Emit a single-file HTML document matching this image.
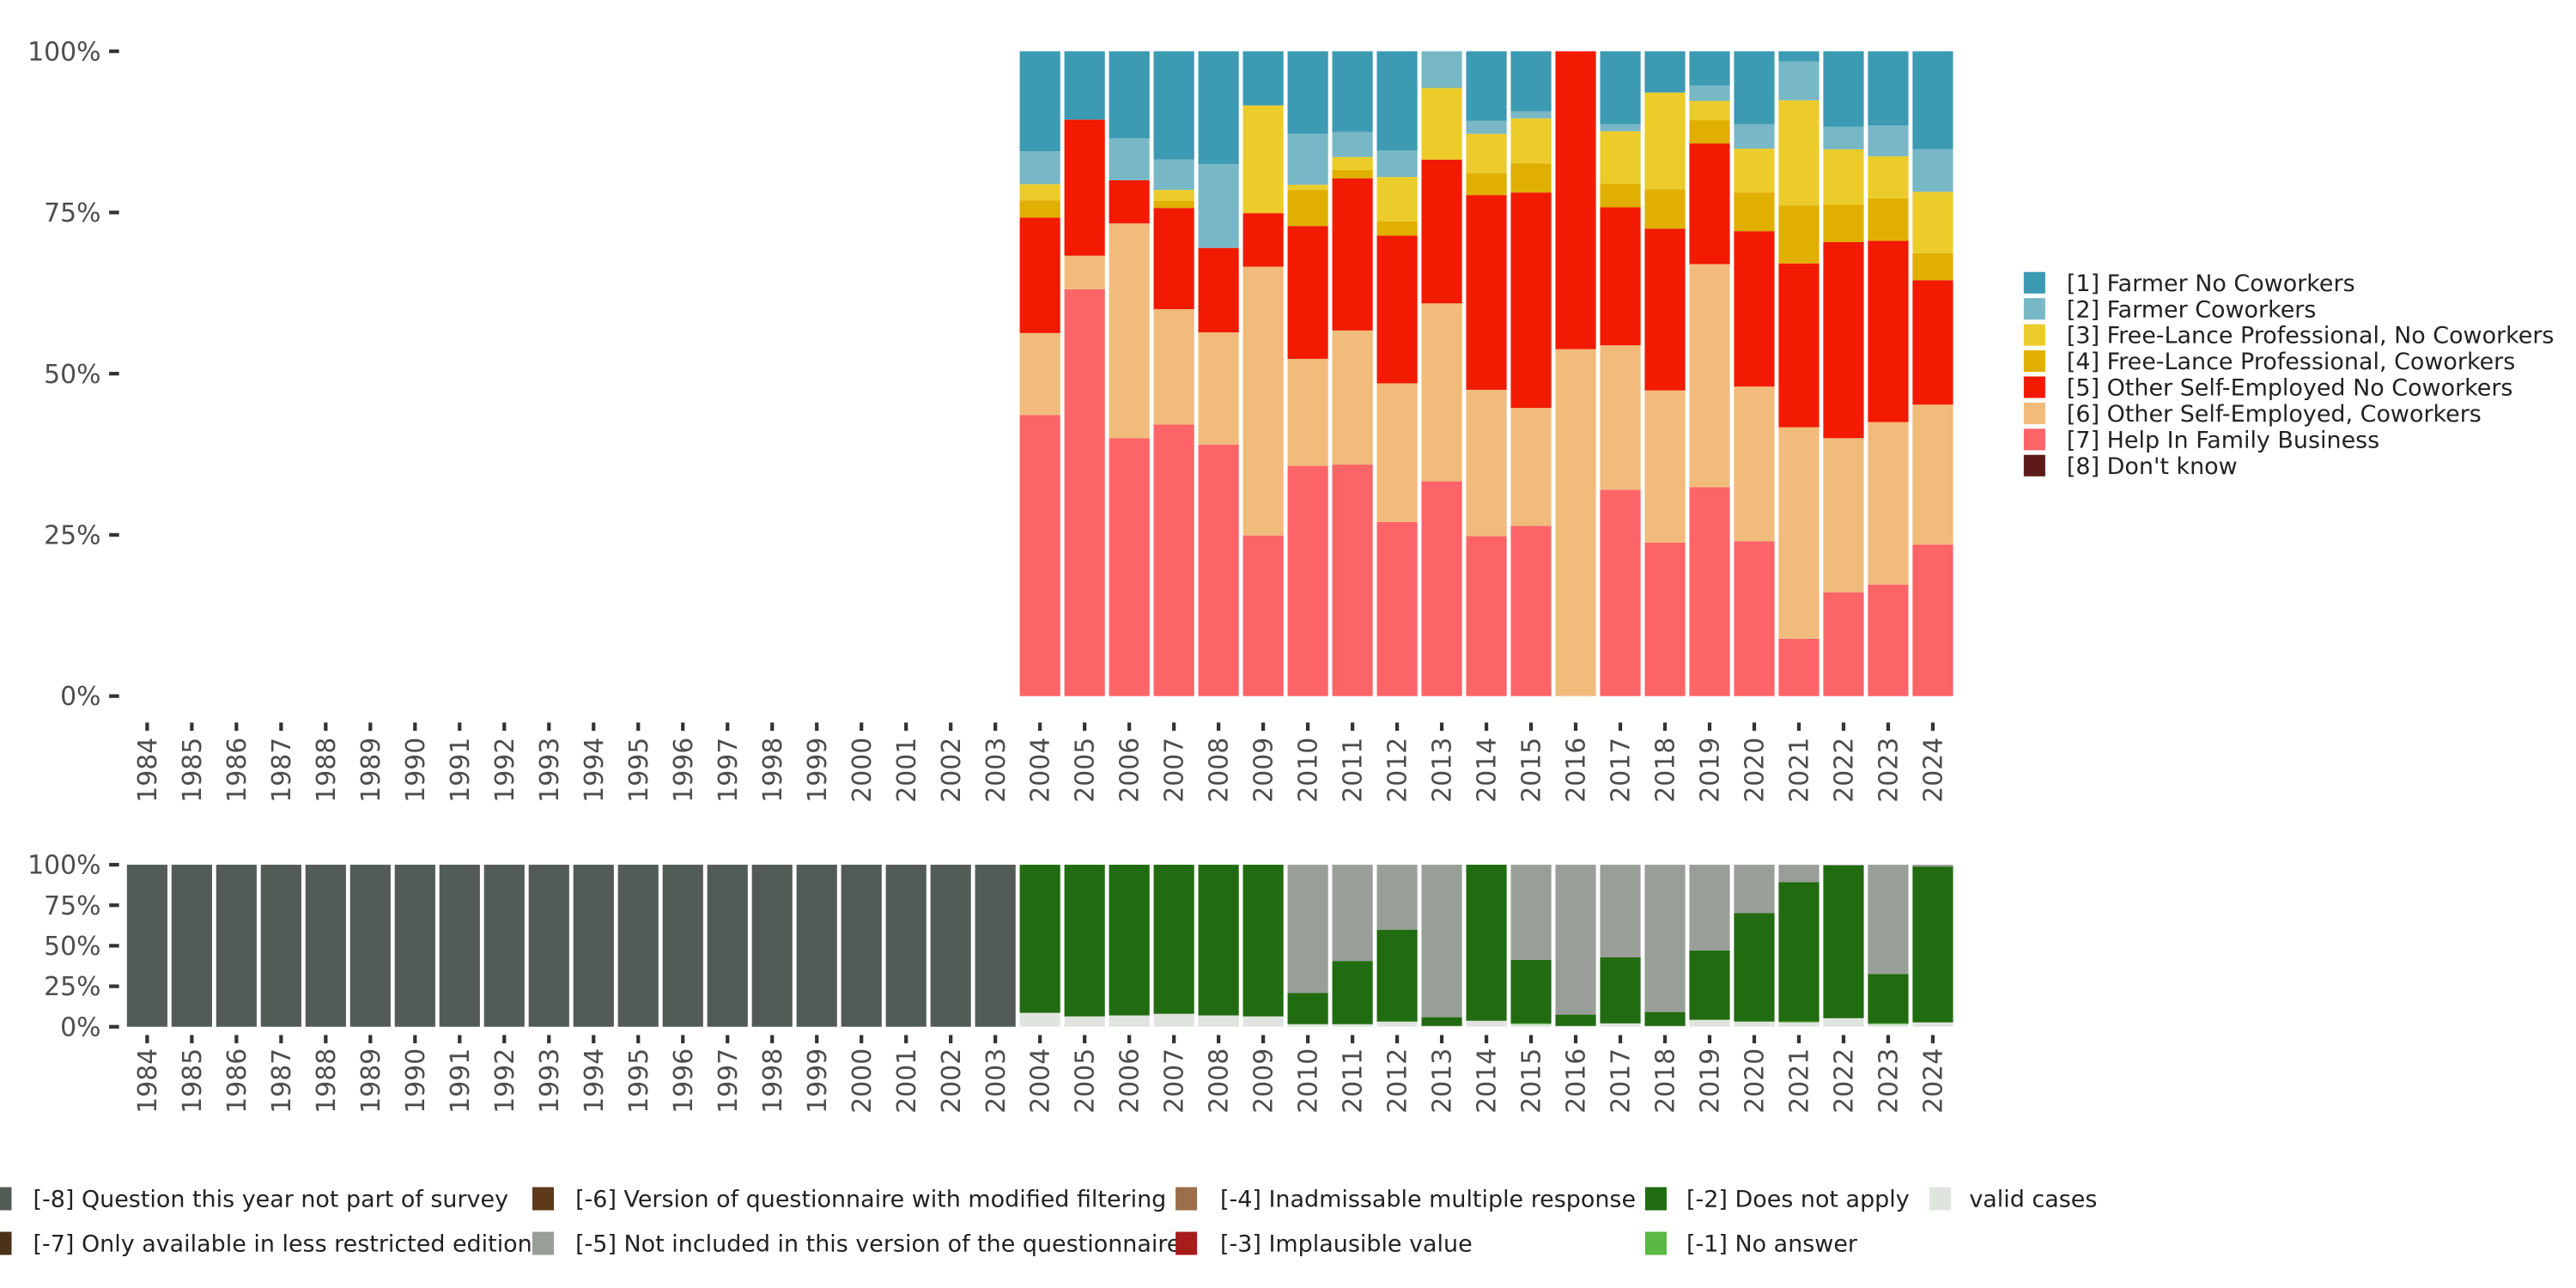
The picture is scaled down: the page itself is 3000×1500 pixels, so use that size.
<!DOCTYPE html>
<html><head><meta charset="utf-8"><style>
html,body{margin:0;padding:0;background:#fff;}
svg{display:block;font-family:"DejaVu Sans","Liberation Sans",sans-serif;}
</style></head><body>
<svg id="chart" width="3000" height="1500" viewBox="0 0 1558 779" preserveAspectRatio="none" xmlns="http://www.w3.org/2000/svg">
<g id="top"></g>
<g id="bot"></g>
<g id="legR"></g>
<g id="legB"></g>
</svg>
<script>
const years = [];
for (let y = 1984; y <= 2024; y++) years.push(y);
const topYears = [2004,2005,2006,2007,2008,2009,2010,2011,2012,2013,2014,2015,2016,2017,2018,2019,2020,2021,2022,2023,2024];
const s7 = [43.6,63.1,40.0,42.1,39.0,24.9,35.7,35.9,27.0,33.3,24.8,26.4,0,32.0,23.8,32.4,24.0,8.9,16.1,17.3,23.5];
const s6 = [12.7,5.2,33.3,17.9,17.4,41.7,16.6,20.8,21.5,27.6,22.7,18.3,53.8,22.4,23.6,34.6,24.0,32.8,23.9,25.2,21.7];
const s5 = [17.9,21.1,6.7,15.7,13.1,8.3,20.6,23.6,22.9,22.3,30.2,33.4,46.2,21.4,25.1,18.7,24.1,25.4,30.4,28.1,19.3];
const s4 = [2.7,0,0,1.1,0,0,5.6,1.3,2.2,0,3.4,4.5,0,3.7,6.1,3.6,6.0,9.0,5.8,6.6,4.2];
const s3 = [2.5,0,0,1.7,0,16.7,0.8,2.0,6.9,11.1,6.1,7.0,0,8.1,15.0,3.0,6.8,16.3,8.6,6.5,9.5];
const s2 = [5.1,0,6.5,4.7,13.0,0,7.9,3.9,4.1,5.7,2.0,1.1,0,1.1,0,2.4,3.8,6.0,3.5,4.8,6.6];
const s1 = [15.5,10.6,13.5,16.8,17.5,8.4,12.8,12.5,15.4,0,10.8,9.3,0,11.3,6.4,5.3,11.3,1.6,11.7,11.5,15.2];
const s8 = [0,0,0,0,0,0,0,0,0,0,0,0,0,0,0,0,0,0,0,0,0];
const topLabels = ["[1] Farmer No Coworkers","[2] Farmer Coworkers","[3] Free-Lance Professional, No Coworkers","[4] Free-Lance Professional, Coworkers","[5] Other Self-Employed No Coworkers","[6] Other Self-Employed, Coworkers","[7] Help In Family Business","[8] Don't know"];
const topColors = ["#3C9AB2","#78B7C5","#EBCC2A","#E1AF00","#F21A00","#F1BB7B","#FD6467","#5B1A18"];
const mValid = [0,0,0,0,0,0,0,0,0,0,0,0,0,0,0,0,0,0,0,0,8.6,6.4,7.0,8.0,7.0,6.4,1.6,1.6,3.2,0.5,3.7,1.6,0.5,2.1,0.5,4.3,3.2,2.7,5.3,1.6,2.7];
const mNoAns = [0,0,0,0,0,0,0,0,0,0,0,0,0,0,0,0,0,0,0,0,0,0,0,0,0,0,0,0,0,0,0,0.5,0,0,0,0,0,0.5,0,0.5,0];
const mNotApply = [0,0,0,0,0,0,0,0,0,0,0,0,0,0,0,0,0,0,0,0,91.4,93.6,93.0,92.0,93.0,93.6,19.3,39.0,56.7,5.4,96.3,39.1,7.0,40.7,8.6,42.8,66.9,86.1,94.2,30.5,96.2];
const mNotIncl = [0,0,0,0,0,0,0,0,0,0,0,0,0,0,0,0,0,0,0,0,0,0,0,0,0,0,79.1,59.4,40.1,94.1,0,58.8,92.5,57.2,90.9,52.9,29.9,10.7,0.5,67.4,1.1];
const mNotSurvey = [100,100,100,100,100,100,100,100,100,100,100,100,100,100,100,100,100,100,100,100,0,0,0,0,0,0,0,0,0,0,0,0,0,0,0,0,0,0,0,0,0];
const yTicks = [0,25,50,75,100];
const yTickLabels = ["0%","25%","50%","75%","100%"];

const NS = "http://www.w3.org/2000/svg";
function mk(parent, tag, attrs, text){
  const e = document.createElementNS(NS, tag);
  for (const k in attrs) e.setAttribute(k, attrs[k]);
  if (text !== undefined) e.textContent = text;
  parent.appendChild(e); return e;
}
const xPos = y => 89 + (y - 1984) * 27;
const BW = 24.5;
const topY = v => 421 - v / 100 * 390;
const botY = v => 621 - v / 100 * 98;

function axes(g, yScale, labelY, tickY){
  yTicks.forEach((t,i)=>{
    const yy = yScale(t);
    const tx = mk(g,'text',{x:61,y:yy+5.5,'text-anchor':'end','font-size':15.5,fill:'#4d4d4d'},yTickLabels[i]);
    
    
    const ln = mk(g,'line',{x1:66,x2:72,y1:yy,y2:yy,stroke:'#333',"stroke-width":2.2});
    
    
  });
  years.forEach(yr=>{
    const x = xPos(yr);
    const ln = mk(g,'line',{x1:x,x2:x,y1:tickY,y2:tickY+5,stroke:'#333',"stroke-width":2.2});
    
    
    const tx = mk(g,'text',{x:x+5.5,y:labelY,'text-anchor':'end','font-size':15.5,fill:'#4d4d4d',transform:`rotate(-90 ${x+5.5} ${labelY})`},String(yr));
    
    
  });
}

const topG = document.getElementById('top');
const series = [s7,s6,s5,s4,s3,s2,s1,s8];
const seriesColors = ["#FD6467","#F1BB7B","#F21A00","#E1AF00","#EBCC2A","#78B7C5","#3C9AB2","#5B1A18"];
topYears.forEach((yr,i)=>{
  let cum = 0;
  series.forEach((s,j)=>{
    const v = s[i]; if (v <= 0) return;
    const r = mk(topG,'rect',{x:xPos(yr)-BW/2,y:topY(cum+v),width:BW,height:topY(cum)-topY(cum+v),fill:seriesColors[j]});
    
    
    cum += v;
  });
});
axes(topG, topY, 446, 437);

const botG = document.getElementById('bot');
const mSeries = [mValid,mNoAns,mNotApply,mNotIncl,mNotSurvey];
const mColors = ["#E0E4DF","#5AB843","#216B10","#999E98","#535B56"];
years.forEach((yr,i)=>{
  let cum = 0;
  mSeries.forEach((s,j)=>{
    const v = s[i]; if (v <= 0) return;
    const r = mk(botG,'rect',{x:xPos(yr)-BW/2,y:botY(cum+v),width:BW,height:botY(cum)-botY(cum+v),fill:mColors[j]});
    
    
    cum += v;
  });
});
axes(botG, botY, 634, 626);

const legR = document.getElementById('legR');
topLabels.forEach((l,i)=>{
  const y = 171 + i*15.8;
  const r = mk(legR,'rect',{x:1224,y:y-6.5,width:13,height:13,fill:topColors[i]});
  
  
  const t = mk(legR,'text',{x:1250,y:y+5,'font-size':14,fill:'#222'},l);
  
  
});

const legB = document.getElementById('legB');
const bItems = [
 [-6,725,"#535B56",20,"[-8] Question this year not part of survey"],
 [-6,752,"#4A3218",20,"[-7] Only available in less restricted edition"],
 [322,725,"#5C3A1A",348,"[-6] Version of questionnaire with modified filtering"],
 [322,752,"#999E98",348,"[-5] Not included in this version of the questionnaire"],
 [711,725,"#9A6F4A",738,"[-4] Inadmissable multiple response"],
 [711,752,"#A81C1C",738,"[-3] Implausible value"],
 [995,725,"#216B10",1020,"[-2] Does not apply"],
 [995,752,"#5AB843",1020,"[-1] No answer"],
 [1167,725,"#E0E4DF",1191,"valid cases"]
];
bItems.forEach(it=>{
  const r = mk(legB,'rect',{x:it[0],y:it[1]-7,width:13,height:14,fill:it[2]});
  
  
  const t = mk(legB,'text',{x:it[3],y:it[1]+5,'font-size':14,fill:'#222'},it[4]);
  
  
});
</script>
</body></html>
